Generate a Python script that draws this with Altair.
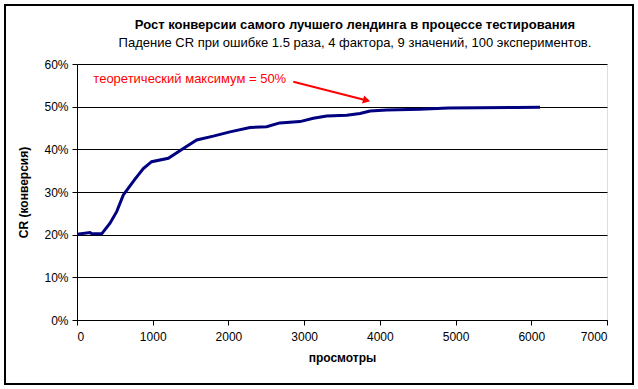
import altair as alt
import pandas as pd

views = [0, 172, 194, 326, 436, 524, 612, 678, 766, 876, 986, 1206, 1404, 1581,
         1800, 2021, 2285, 2505, 2677, 2945, 3121, 3298, 3562, 3738, 3870, 4091,
         4530, 4904, 5808, 6115]
cr = [0.201, 0.205, 0.202, 0.202, 0.227, 0.254, 0.293, 0.309, 0.330, 0.355,
      0.371, 0.379, 0.402, 0.422, 0.431, 0.441, 0.451, 0.453, 0.462, 0.465,
      0.473, 0.478, 0.480, 0.484, 0.490, 0.492, 0.494, 0.497, 0.498, 0.4985]

x_ticks = [0, 1000, 2000, 3000, 4000, 5000, 6000, 7000]
y_ticks = [0, 0.1, 0.2, 0.3, 0.4, 0.5, 0.6]

note_text = ["теоретический максимум = 50%"]
note_x = [216]
note_y = [0.564]
arrow_x = [2857]
arrow_y = [0.5585]
arrow_x2 = [3830]
arrow_y2 = [0.5145]
head_x = [3825]
head_y = [0.5148]

FONT = "Liberation Sans"

df = pd.DataFrame({"views": views, "cr": cr})
note_df = pd.DataFrame({"x": note_x, "y": note_y, "t": note_text})
arrow_df = pd.DataFrame({"x": arrow_x, "y": arrow_y, "x2": arrow_x2, "y2": arrow_y2})
head_df = pd.DataFrame({"x": head_x, "y": head_y})

xscale = alt.Scale(domain=[0, 7000], nice=False)
yscale = alt.Scale(domain=[0, 0.6], nice=False)

line = alt.Chart(df).mark_line(color="#000080", strokeWidth=3, clip=True).encode(
    x=alt.X("views:Q", scale=xscale,
            axis=alt.Axis(values=x_ticks, format="d", title="просмотры", grid=False,
                          labelFontSize=12, labelFont=FONT, labelColor="black",
                          titleFont=FONT, titleFontSize=12, titleFontWeight="bold",
                          titleColor="black", domainColor="black", tickColor="black",
                          tickSize=5, labelPadding=6, titlePadding=10)),
    y=alt.Y("cr:Q", scale=yscale,
            axis=alt.Axis(values=y_ticks, format=".0%", title="CR (конверсия)",
                          grid=True, gridColor="black", gridOpacity=1, gridWidth=1,
                          labelFontSize=12, labelFont=FONT, labelColor="black",
                          titleFont=FONT, titleFontSize=12, titleFontWeight="bold",
                          titleColor="black", domainColor="black", tickColor="black",
                          tickSize=5, labelPadding=4, titlePadding=13)),
)

note = alt.Chart(note_df).mark_text(
    align="left", baseline="middle", color="#FF0000", font=FONT, fontSize=13
).encode(x=alt.X("x:Q", scale=xscale), y=alt.Y("y:Q", scale=yscale), text="t:N")

arrow = alt.Chart(arrow_df).mark_rule(color="#FF0000", strokeWidth=2).encode(
    x=alt.X("x:Q", scale=xscale), y=alt.Y("y:Q", scale=yscale),
    x2="x2:Q", y2="y2:Q")

head = alt.Chart(head_df).mark_point(
    shape="triangle-right", filled=True, color="#FF0000", opacity=1, size=70, angle=14
).encode(x=alt.X("x:Q", scale=xscale), y=alt.Y("y:Q", scale=yscale))

frame = alt.Chart(pd.DataFrame({"a": [0]})).mark_rect(
    fill="white", fillOpacity=0, stroke="black", strokeWidth=2
).encode(x=alt.value(-72), x2=alt.value(556), y=alt.value(-59), y2=alt.value(320))

chart = alt.layer(frame, line, arrow, head, note).properties(
    width=530, height=256,
    autosize=alt.AutoSizeParams(type="none"),
    padding={"left": 77, "top": 64, "right": 31, "bottom": 69},
    title=alt.TitleParams(
        text="Рост конверсии самого лучшего лендинга в процессе тестирования",
        subtitle="Падение CR при ошибке 1.5 раза, 4 фактора, 9 значений, 100 экспериментов.",
        font=FONT, fontSize=13, fontWeight="bold", color="black",
        subtitleFont=FONT, subtitleFontSize=13, subtitleColor="black",
        subtitlePadding=5, anchor="middle", dx=13, offset=-46,
    ),
).configure_view(
    fill="#C0C0C0", stroke="#808080", strokeWidth=1
).configure(background="white")

chart.save("out.html", embed_options={"renderer": "svg", "actions": False})
